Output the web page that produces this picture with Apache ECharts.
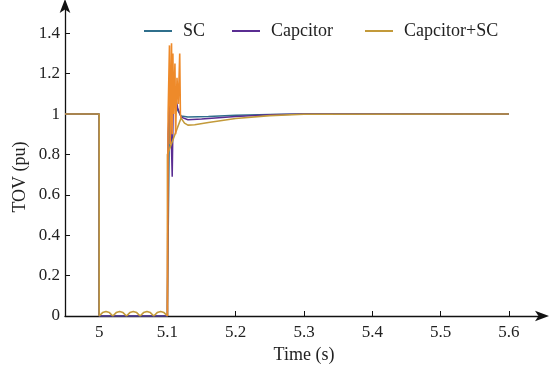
<!DOCTYPE html>
<html><head><meta charset="utf-8">
<script src="https://cdn.jsdelivr.net/npm/echarts@6/dist/echarts.min.js"></script>
<style>html,body{margin:0;padding:0;background:#fff}#c{width:550px;height:369px}</style>
</head><body><div id="c"></div>
<script>
const xTicks = [5, 5.1, 5.2, 5.3, 5.4, 5.5, 5.6];
const yTicks = [0, 0.2, 0.4, 0.6, 0.8, 1, 1.2, 1.4];
const seriesNames = ['SC', 'Capcitor', 'Capcitor+SC'];

const scT = [4.95, 5.0, 5.0, 5.1, 5.1, 5.103, 5.106, 5.11, 5.115, 5.12, 5.13, 5.16, 5.2, 5.25, 5.3, 5.6];
const scV = [1, 1, 0, 0, 0.05, 1.0, 1.12, 1.08, 1.02, 0.99, 0.985, 0.988, 0.994, 0.998, 1, 1];

const capT = [4.95, 5.0, 5.0, 5.1, 5.1, 5.101, 5.104, 5.107, 5.109, 5.111, 5.115, 5.12, 5.13, 5.15, 5.2, 5.25, 5.3, 5.6];
const capV = [1, 1, 0, 0, 0.05, 0.9, 1.1, 0.69, 1.17, 1.1, 1.03, 0.985, 0.972, 0.975, 0.988, 0.996, 1, 1];

const bothT = [4.95, 5.0, 5.0, 5.005, 5.01, 5.015, 5.02, 5.025, 5.03, 5.035, 5.04, 5.045, 5.05, 5.055, 5.06, 5.065, 5.07, 5.075, 5.08, 5.085, 5.09, 5.095, 5.1, 5.1, 5.12, 5.125, 5.13, 5.14, 5.16, 5.2, 5.25, 5.3, 5.6];
const bothV = [1, 1, 0, 0.017, 0.022, 0.017, 0, 0.017, 0.022, 0.017, 0, 0.017, 0.022, 0.017, 0, 0.017, 0.022, 0.017, 0, 0.017, 0.022, 0.017, 0, 0.8, 0.98, 0.955, 0.945, 0.947, 0.958, 0.978, 0.992, 0.999, 1];

const spikeT = [5.1, 5.101, 5.103, 5.104, 5.106, 5.107, 5.108, 5.109, 5.111, 5.112, 5.114, 5.116, 5.118, 5.119, 5.12];
const spikeV = [0, 1.0, 1.34, 0.85, 1.35, 0.9, 1.3, 1.0, 1.25, 0.9, 1.18, 1.05, 1.3, 1.0, 0.98];

const zip = (t, v) => t.map((x, i) => [x, v[i]]);
const font = 'Liberation Serif';
const legendLeft = [139, 227, 360];

const chart = echarts.init(document.getElementById('c'));
chart.setOption({
  animation: false,
  textStyle: {fontFamily: font},
  legend: seriesNames.map((n, i) => ({
    data: [n],
    left: legendLeft[i], top: 17,
    itemWidth: 28, itemHeight: 2, icon: 'rect',
    textStyle: {fontFamily: font, fontSize: 18, color: '#222', padding: [0, 0, 0, 6]}
  })),
  grid: {left: 65, right: 7, top: 5, bottom: 50},
  xAxis: {
    type: 'value', min: 4.95, max: 5.65,
    name: 'Time (s)', nameLocation: 'middle', nameGap: 30,
    nameTextStyle: {fontFamily: font, fontSize: 18, color: '#222'},
    axisLine: {lineStyle: {color: '#111', width: 1.3}, symbol: ['none', 'arrow'], symbolSize: [8, 14], symbolOffset: [0, 6]},
    axisTick: {inside: true, length: 5, customValues: xTicks, lineStyle: {color: '#111'}},
    axisLabel: {customValues: xTicks, fontFamily: font, fontSize: 17, color: '#222', margin: 8},
    splitLine: {show: false}
  },
  yAxis: {
    type: 'value', min: 0, max: 1.54,
    axisLine: {show: true, lineStyle: {color: '#111', width: 1.3}, symbol: ['none', 'arrow'], symbolSize: [8, 14], symbolOffset: [0, 6]},
    axisTick: {show: true, inside: true, length: 5, customValues: yTicks, lineStyle: {color: '#111'}},
    axisLabel: {customValues: yTicks, fontFamily: font, fontSize: 17, color: '#222', margin: 5},
    splitLine: {show: false}
  },
  graphic: [{
    type: 'text', x: 20, y: 177, rotation: Math.PI / 2, originX: 0, originY: 0,
    style: {text: 'TOV (pu)', font: '18px "Liberation Serif"', fill: '#222', align: 'center', verticalAlign: 'middle'}
  }],
  series: [
    {name: 'SC', type: 'line', symbol: 'none', data: zip(scT, scV), lineStyle: {color: '#2f6f8c', width: 1.5}, itemStyle: {color: '#2f6f8c'}},
    {name: 'Capcitor', type: 'line', symbol: 'none', data: zip(capT, capV), lineStyle: {color: '#5a2d92', width: 1.5}, itemStyle: {color: '#5a2d92'}},
    {name: 'Capcitor+SC', type: 'line', symbol: 'none', data: zip(bothT, bothV), lineStyle: {color: '#c39a3a', width: 1.6}, itemStyle: {color: '#c39a3a'}},
    {name: 'Capcitor+SC transient', type: 'line', symbol: 'none', data: zip(spikeT, spikeV), lineStyle: {color: '#ee8a2a', width: 1.6}, itemStyle: {color: '#ee8a2a'}}
  ]
});
</script></body></html>
